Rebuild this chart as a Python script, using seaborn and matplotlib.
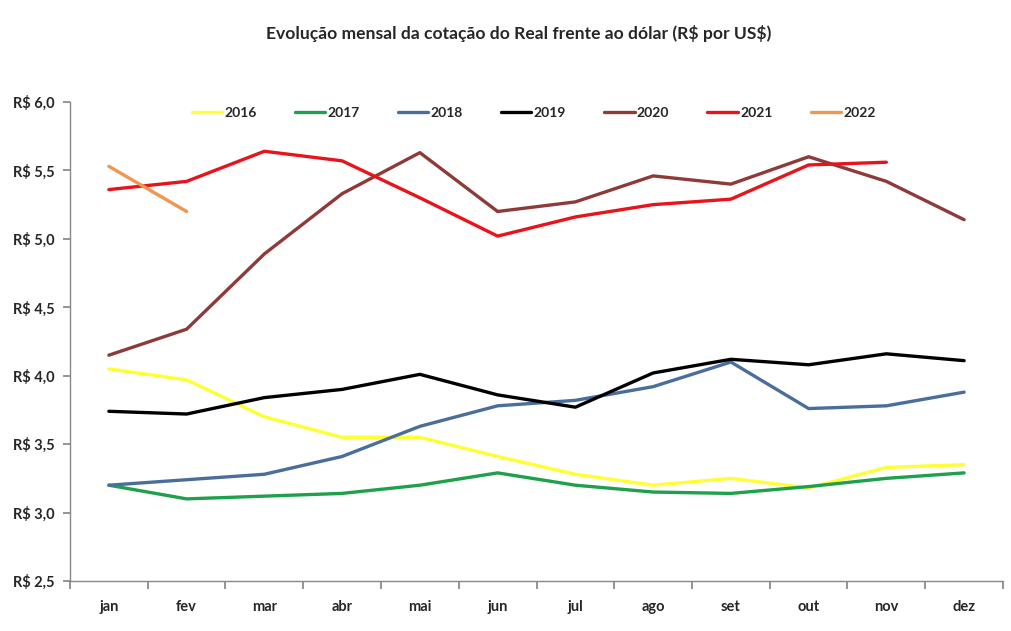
import matplotlib
matplotlib.use("Agg")
import matplotlib.pyplot as plt
import seaborn as sns
import pandas as pd
import numpy as np

months = ["jan", "fev", "mar", "abr", "mai", "jun", "jul", "ago", "set", "out", "nov", "dez"]
v2016 = [4.05, 3.97, 3.70, 3.55, 3.55, 3.41, 3.28, 3.20, 3.25, 3.18, 3.33, 3.35]
v2017 = [3.20, 3.10, 3.12, 3.14, 3.20, 3.29, 3.20, 3.15, 3.14, 3.19, 3.25, 3.29]
v2018 = [3.20, 3.24, 3.28, 3.41, 3.63, 3.78, 3.82, 3.92, 4.10, 3.76, 3.78, 3.88]
v2019 = [3.74, 3.72, 3.84, 3.90, 4.01, 3.86, 3.77, 4.02, 4.12, 4.08, 4.16, 4.11]
v2020 = [4.15, 4.34, 4.89, 5.33, 5.63, 5.20, 5.27, 5.46, 5.40, 5.60, 5.42, 5.14]
v2021 = [5.36, 5.42, 5.64, 5.57, 5.30, 5.02, 5.16, 5.25, 5.29, 5.54, 5.56, None]
v2022 = [5.53, 5.20] + [None] * 10

years = ["2016", "2017", "2018", "2019", "2020", "2021", "2022"]
series = [v2016, v2017, v2018, v2019, v2020, v2021, v2022]
colors = ["#FFFF33", "#1FA04C", "#4A6E9C", "#000000", "#8E3A38", "#E8141B", "#F0964E"]

rows = []
for y, vals in zip(years, series):
    for i, v in enumerate(vals):
        if v is not None:
            rows.append({"mes": i, "ano": y, "valor": v})
df = pd.DataFrame(rows)

sns.set_theme(style="white")
plt.rcParams["font.family"] = ["Lato", "DejaVu Sans"]
plt.rcParams["font.weight"] = "bold"
plt.rcParams["text.parse_math"] = False

fig = plt.figure(figsize=(10.12, 6.31), dpi=100)
ax = fig.add_axes([70 / 1012, 1 - 581 / 631, (1003 - 70) / 1012, (581 - 102) / 631])

sns.lineplot(data=df, x="mes", y="valor", hue="ano", hue_order=years,
             palette=dict(zip(years, colors)), linewidth=2.4, ax=ax,
             estimator=None, sort=False)

ax.set_xlim(-0.5, 11.5)
ax.set_ylim(2.5, 6.0)
yt = np.arange(2.5, 6.01, 0.5)
ax.set_yticks(yt)
ax.set_yticklabels([("R$ %.1f" % t).replace(".", ",") for t in yt], fontsize=10.5, fontweight="bold")
ax.set_xticks(np.arange(-0.5, 11.6, 1.0))
ax.set_xticklabels([])
ax.set_xticks(np.arange(12), minor=True)
ax.set_xticklabels(months, minor=True, fontsize=10.5, fontweight="bold")
ax.tick_params(axis="x", which="major", length=6, color="#888888", direction="out", bottom=True)
ax.tick_params(axis="x", which="minor", length=0, pad=14, bottom=True)
ax.tick_params(axis="y", length=5, color="#888888", direction="out", left=True, pad=6)
ax.set_xlabel("")
ax.set_ylabel("")
for s in ["top", "right"]:
    ax.spines[s].set_visible(False)
for s in ["left", "bottom"]:
    ax.spines[s].set_color("#888888")
    ax.spines[s].set_linewidth(1.0)

handles, labels = ax.get_legend_handles_labels()
leg = ax.legend(handles, labels, loc="center", bbox_to_anchor=(0.497, 0.977), ncol=7,
                frameon=False, handlelength=2.2, handletextpad=0.15, columnspacing=2.75,
                prop={"weight": "bold", "size": 10})

fig.text(0.513, 1 - 34 / 631, "Evolução mensal da cotação do Real frente ao dólar (R$ por US$)",
         ha="center", va="center", fontsize=12.6, fontweight="bold")

fig.savefig("out.png", dpi=100, facecolor="white")
